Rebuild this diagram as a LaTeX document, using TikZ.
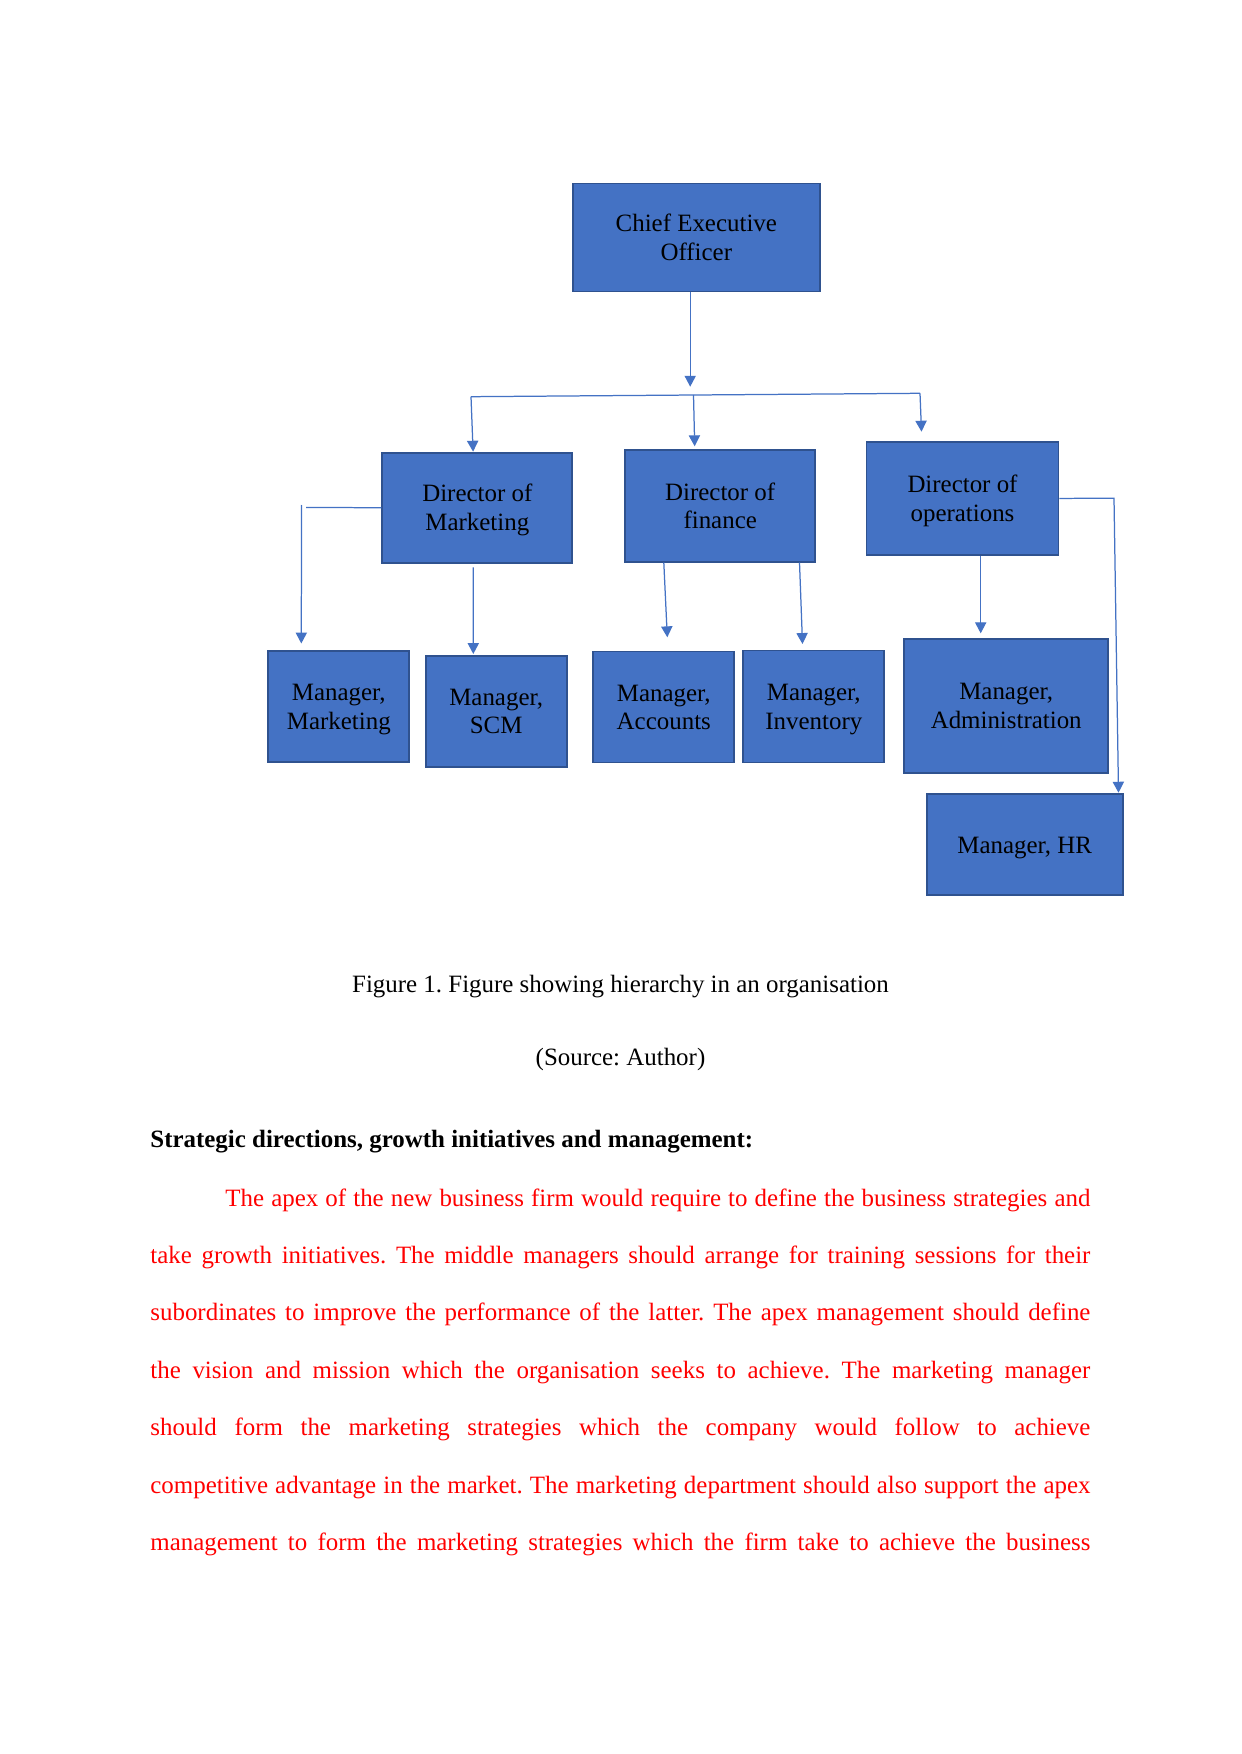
\documentclass[tikz,border=0pt]{standalone}
\usepackage{fontspec}
\setmainfont{Liberation Serif}
\usetikzlibrary{arrows.meta}

\definecolor{boxblue}{HTML}{4472C4}
\definecolor{boxline}{HTML}{2F528F}
\definecolor{linkblue}{HTML}{4472C4}
\newcommand{\pxl}{0.169218mm}
\newcommand{\wstrut}{\rule[-2.6pt]{0pt}{13.3pt}}
\frenchspacing

\tikzset{
  orgbox/.style={draw=boxline, fill=boxblue, line width=0.8pt, align=center,
    inner sep=2pt, font=\fontsize{12}{13.8}\selectfont},
  boxsize/.style 2 args={minimum width=#1*\pxl, minimum height=#2*\pxl},
  link/.style={draw=linkblue, line width=0.6pt},
  linkarrow/.style={link, -{Triangle[length=1.85mm, width=1.9mm]}},
  pagetext/.style={inner sep=0pt, font=\fontsize{12}{14}\selectfont}
}

\begin{document}
\begin{tikzpicture}[x=0.169218mm, y=-0.169218mm]

    \useasboundingbox (0,0) rectangle (1241,1754);
    \fill[white] (0,0) rectangle (1241,1754);

    % Chief executive
    \node[orgbox, boxsize={247}{108}] (ceo) at (696.3,237.5) {\wstrut Chief Executive\\Officer\wstrut};

    % Directors
    \node[orgbox, boxsize={190}{110}] (dmkt) at (477.3,507.7) {\wstrut Director of\\Marketing\wstrut};
    \node[orgbox, boxsize={190}{112}] (dfin) at (720.2,506.2) {\wstrut Director of\\finance\wstrut};
    \node[orgbox, boxsize={192}{113}] (dops) at (962.5,498.4) {\wstrut Director of\\operations\wstrut};

    % Managers
    \node[orgbox, boxsize={141}{111}] (mmkt) at (338.8,706.3) {\wstrut Manager,\\Marketing\wstrut};
    \node[orgbox, boxsize={141}{111}] (mscm) at (496.2,711.2) {\wstrut Manager,\\SCM\wstrut};
    \node[orgbox, boxsize={141}{111}] (macc) at (663.8,707) {\wstrut Manager,\\Accounts\wstrut};
    \node[orgbox, boxsize={141}{112}] (minv) at (813.8,706.5) {\wstrut Manager,\\Inventory\wstrut};
    \node[orgbox, boxsize={204}{134}] (madm) at (1006.2,705.9) {\wstrut Manager,\\Administration\wstrut};
    \node[orgbox, boxsize={196}{101}] (mhr) at (1024.7,844.7) {\wstrut Manager, HR};

    % CEO down to the bus
    \coordinate (ceotip) at (690.2,386.7);
    \draw[linkarrow] (ceo.south -| ceotip) -- (ceotip);

    \coordinate (busl) at (471,396.7);
    \coordinate (busm) at (693.5,395);
    \coordinate (busr) at (920,393.3);
    \draw[link] (busl) -- (busr);

    \coordinate (dmkttip) at (473.1,451.7);
    \coordinate (dfintip) at (694.7,446.3);
    \coordinate (dopstip) at (921.5,431.7);
    \draw[linkarrow] (busl) -- (dmkttip);
    \draw[linkarrow] (busm) -- (dfintip);
    \draw[linkarrow] (busr) -- (dopstip);

    % Marketing branch
    \coordinate (mkcorner) at (306,507.5);
    \coordinate (mktop) at (301.5,505);
    \coordinate (mktip) at (301.3,643.5);
    \draw[link] (dmkt.west) -- (mkcorner);
    \draw[linkarrow] (mktop) -- (mktip);

    \coordinate (scmtop) at (473.2,567.3);
    \coordinate (scmtip) at (473.3,654);
    \draw[linkarrow] (scmtop) -- (scmtip);

    % Finance branch
    \coordinate (acctop) at (663.8,562.5);
    \coordinate (acctip) at (667.3,637.3);
    \coordinate (invtop) at (799.5,562.5);
    \coordinate (invtip) at (802.5,644);
    \draw[linkarrow] (acctop) -- (acctip);
    \draw[linkarrow] (invtop) -- (invtip);

    % Operations branch
    \coordinate (admtip) at (980.7,633.3);
    \draw[linkarrow] (dops.south -| admtip) -- (admtip);

    \coordinate (hrcorner) at (1114,498.3);
    \coordinate (hrtip) at (1118.5,792.7);
    \draw[linkarrow] (dops.east) -- (hrcorner) -- (hrtip);

    % Caption and text
    \node[pagetext, anchor=base] (caption) at (620.5,992.3) {Figure 1. Figure showing hierarchy in an organisation};
    \node[pagetext, anchor=base] (source) at (620.5,1065) {(Source: Author)};
    \node[pagetext, anchor=base west, font=\fontsize{12}{14}\selectfont\bfseries] (heading) at (150,1147.3)
        {Strategic directions, growth initiatives and management:};

    \node[pagetext, anchor=base west, text width=940*\pxl, align=justify, text=red,
          font=\fontsize{12}{27.65}\selectfont] (body) at (150,1206)
        {\parfillskip=0pt\tolerance=9999\hyphenpenalty=10000\hspace*{12.7mm}The apex of the new
         business firm would require to define the business strategies and\linebreak
         take growth initiatives. The middle managers should arrange for training sessions for their\linebreak
         subordinates to improve the performance of the latter. The apex management should define\linebreak
         the vision and mission which the organisation seeks to achieve. The marketing manager\linebreak
         should form the marketing strategies which the company would follow to achieve\linebreak
         competitive advantage in the market. The marketing department should also support the apex\linebreak
         management to form the marketing strategies which the firm take to achieve the business\par};

\end{tikzpicture}
\end{document}
